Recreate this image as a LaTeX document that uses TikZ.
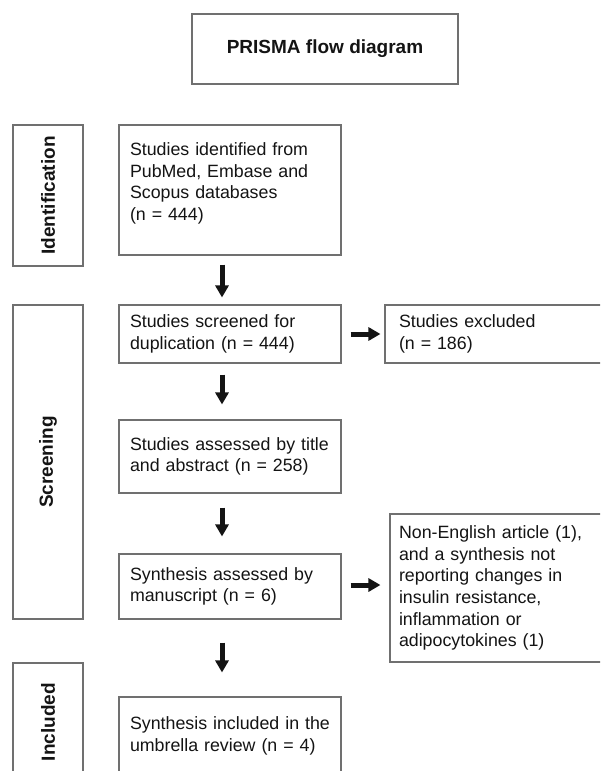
\documentclass[tikz,border=0pt]{standalone}
\usepackage{fontspec}
\setmainfont{Liberation Sans}
\usetikzlibrary{arrows.meta,calc}
\definecolor{edgegray}{RGB}{112,112,112}
\definecolor{inkblack}{RGB}{20,20,20}
\begin{document}
\begin{tikzpicture}[x=1pt,y=-1pt,
  boxline/.style={draw=edgegray, line width=1.1pt},
  mainbox/.style={boxline, rectangle, minimum width=222pt, text width=200pt, inner xsep=11pt, inner ysep=0pt, align=left, font=\fontsize{17.8}{21.6}\selectfont, text=inkblack},
  sidebox/.style={boxline, rectangle, rotate=90, minimum height=70pt, inner sep=0pt, font=\bfseries\fontsize{19}{22}\selectfont, text=inkblack},
  barrow/.style={-{Triangle[length=12pt,width=13pt]}, line width=5pt, draw=inkblack}
]
\useasboundingbox (0,0) rectangle (600,771);
\fill[white] (0,0) rectangle (600,771);
\clip (0,0) rectangle (600,771);

\node[boxline, minimum width=266pt, minimum height=70pt, text=inkblack, font=\bfseries\fontsize{19}{22}\selectfont] (title) at (325,49) {PRISMA flow diagram};

\node[sidebox, minimum width=141pt] (sid) at (48,195.5) {Identification};
\node[sidebox, minimum width=314pt] (ssc) at (48,462) {Screening};
\node[sidebox, minimum width=118pt] (sin) at (48,722) {Included};

\node[mainbox, minimum height=130pt] (b1) at (230,190) {Studies identified from\\PubMed, Embase and\\Scopus databases\\(n = 444)\\[-5pt]\mbox{}};
\node[mainbox, minimum height=58pt] (b2) at (230,334) {Studies screened for\\duplication (n = 444)};
\node[mainbox, minimum height=73pt] (b3) at (230,456.5) {Studies assessed by title\\and abstract (n = 258)};
\node[mainbox, minimum height=65pt] (b4) at (230,586.5) {Synthesis assessed by\\manuscript (n = 6)};
\node[mainbox, minimum height=78pt] (b5) at (230,736) {Synthesis included in the\\umbrella review (n = 4)};
\node[mainbox, minimum width=225pt, text width=197pt, inner xsep=14pt, minimum height=58pt] (ex) at (497.5,334) {Studies excluded\\(n = 186)};
\node[mainbox, minimum width=220pt, text width=202pt, inner xsep=9pt, minimum height=148pt] (ne) at (500,588) {Non-English article (1),\\and a synthesis not\\reporting changes in\\insulin resistance,\\inflammation or\\adipocytokines (1)};

\draw[barrow] ($(b1.south)+(-8,9)$) -- ($(b2.north)+(-8,-7)$);
\draw[barrow] ($(b2.south)+(-8,11)$) -- ($(b3.north)+(-8,-15)$);
\draw[barrow] ($(b3.south)+(-8,14)$) -- ($(b4.north)+(-8,-17)$);
\draw[barrow] ($(b4.south)+(-8,23)$) -- ($(b5.north)+(-8,-24)$);
\draw[barrow] ($(b2.east)+(9,0)$) -- ($(ex.west)+(-4,0)$);
\draw[barrow] ($(b4.east)+(9,-1.5)$) -- ($(ne.west|-b4.east)+(-9,-1.5)$);
\end{tikzpicture}
\end{document}
